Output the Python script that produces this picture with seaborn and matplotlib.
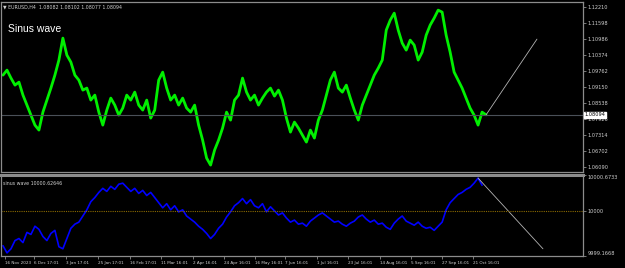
import numpy as np
import pandas as pd
import matplotlib
matplotlib.use("Agg")
import matplotlib.pyplot as plt
import matplotlib.transforms as mtransforms
import seaborn as sns

price = [1.09617, 1.09809, 1.09503, 1.09234, 1.09349, 1.08851, 1.08468, 1.08085, 1.07702, 1.07511,
         1.08200, 1.08660, 1.09120, 1.09617, 1.10192, 1.11035, 1.10383, 1.10115, 1.09617, 1.09426,
         1.09043, 1.09120, 1.08660, 1.08851, 1.08200, 1.07702, 1.08277, 1.08737, 1.08468, 1.08085,
         1.08354, 1.08851, 1.08660, 1.08966, 1.08468, 1.08277, 1.08660, 1.07971, 1.08277, 1.09426,
         1.09732, 1.09120, 1.08660, 1.08851, 1.08468, 1.08737, 1.08354, 1.08200, 1.08468, 1.07702,
         1.07128, 1.06439, 1.06170, 1.06745, 1.07128, 1.07588, 1.08200, 1.07894, 1.08660, 1.08851,
         1.09503, 1.08966, 1.08660, 1.08851, 1.08468, 1.08737, 1.08966, 1.09120, 1.08813, 1.09043,
         1.08660, 1.07971, 1.07434, 1.07817, 1.07588, 1.07319, 1.07051, 1.07511, 1.07205, 1.07894,
         1.08277, 1.08851, 1.09426, 1.09732, 1.09120, 1.08966, 1.09234, 1.08737, 1.08277, 1.07894,
         1.08468, 1.08851, 1.09234, 1.09617, 1.09886, 1.10192, 1.11341, 1.11724, 1.11992, 1.11341,
         1.10843, 1.10575, 1.10958, 1.10766, 1.10192, 1.10498, 1.11149, 1.11532, 1.11801, 1.12107,
         1.12030, 1.11149, 1.10498, 1.09732, 1.09426, 1.09120, 1.08737, 1.08354, 1.08085, 1.07702,
         1.08200, 1.08094]

# sinus wave indicator values
wave = [9999.357, 9999.224, 9999.300, 9999.453, 9999.491, 9999.415, 9999.605, 9999.567, 9999.720, 9999.662,
        9999.529, 9999.453, 9999.586, 9999.643, 9999.338, 9999.300, 9999.491, 9999.682, 9999.758, 9999.796,
        9999.910, 10000.025, 10000.177, 10000.254, 10000.349, 10000.425, 10000.368, 10000.463, 10000.406, 10000.502,
        10000.521, 10000.444, 10000.368, 10000.425, 10000.330, 10000.387, 10000.292, 10000.349, 10000.254, 10000.158,
        10000.063, 10000.139, 10000.025, 10000.101, 9999.987, 10000.025, 9999.910, 9999.853, 9999.796, 9999.720,
        9999.662, 9999.586, 9999.491, 9999.567, 9999.682, 9999.758, 9999.891, 9999.987, 10000.101, 10000.158,
        10000.235, 10000.139, 10000.215, 10000.101, 10000.063, 10000.139, 9999.987, 10000.082, 10000.006, 9999.929,
        9999.968, 9999.872, 9999.796, 9999.834, 9999.758, 9999.777, 9999.720, 9999.815, 9999.872, 9999.929,
        9999.968, 9999.910, 9999.853, 9999.796, 9999.815, 9999.758, 9999.720, 9999.777, 9999.815, 9999.891,
        9999.929, 9999.853, 9999.796, 9999.834, 9999.758, 9999.777, 9999.701, 9999.662, 9999.777, 9999.853,
        9999.910, 9999.815, 9999.777, 9999.739, 9999.796, 9999.720, 9999.682, 9999.701, 9999.643, 9999.720,
        9999.796, 10000.025, 10000.158, 10000.235, 10000.311, 10000.349, 10000.406, 10000.444, 10000.521, 10000.616,
        10000.482]

# projected sine continuation (start and end of the thin grey line)
price_proj_x = [121, 133.75]
price_proj = [1.08094, 1.10996]
wave_proj_x = [119, 135.25]
wave_proj = [10000.616, 9999.300]

date_ticks = [0.5, 7.75, 15.75, 23.75, 31.75, 39.5, 47.5, 55.25, 63, 70.75, 78.75, 86.5, 94.5, 102.25, 110, 117.75]
date_labels = ["16 Nov 2023", "6 Dec 17:01", "3 Jan 17:01", "25 Jan 17:01", "16 Feb 17:01",
               "11 Mar 16:01", "2 Apr 16:01", "24 Apr 16:01", "16 May 16:01", "7 Jun 16:01",
               "1 Jul 16:01", "23 Jul 16:01", "14 Aug 16:01", "5 Sep 16:01", "27 Sep 16:01",
               "21 Oct 16:01"]
price_ticks = [1.12210, 1.11598, 1.10986, 1.10374, 1.09762, 1.09150, 1.08538, 1.07926, 1.07314, 1.06702, 1.06090]
wave_ticks = [9999.1668, 10000.0, 10000.6733]
wave_labels = ["9999.1668", "10000", "10000.6733"]

sns.set_theme(style="dark")
plt.rcParams["font.family"] = ["DejaVu Sans"]

bg = "black"
frame = "#8c8c8c"
txt = "#d0d0d0"

fig = plt.figure(figsize=(6.25, 2.68), dpi=100, facecolor=bg)
ax1 = fig.add_axes([0.0016, 0.358, 0.931, 0.634])
ax2 = fig.add_axes([0.0016, 0.045, 0.931, 0.302])

df_p = pd.DataFrame({"bar": np.arange(len(price)), "price": price})
df_w = pd.DataFrame({"bar": np.arange(len(wave)), "wave": wave})

sns.lineplot(data=df_p, x="bar", y="price", ax=ax1, color="#00f000", lw=2.0)
sns.lineplot(x=price_proj_x, y=price_proj, ax=ax1, color="#b4b4b4", lw=0.6)
ax1.axhline(price[-1], color="#4a5058", lw=0.8)

sns.lineplot(data=df_w, x="bar", y="wave", ax=ax2, color="#0000ff", lw=1.2)
sns.lineplot(x=wave_proj_x, y=wave_proj, ax=ax2, color="#b4b4b4", lw=0.6)
ax2.axhline(10000, color="#8a6a00", lw=0.8, ls=(0, (1, 1)))

for ax in (ax1, ax2):
    ax.set_facecolor(bg)
    ax.set_xlim(-0.5, 145.25)
    ax.set_xlabel("")
    ax.set_ylabel("")
    ax.grid(False)
    for s in ax.spines.values():
        s.set_color(frame)
        s.set_linewidth(0.9)
        s.set_visible(True)
    ax.yaxis.tick_right()
    ax.tick_params(axis="y", colors=frame, labelcolor=txt, labelsize=3.6, length=2, width=0.6, pad=1.5)

ax1.set_ylim(1.05903, 1.12413)
ax1.set_yticks(price_ticks)
ax1.set_yticklabels([f"{v:.5f}" for v in price_ticks])
ax1.set_xticks([])

ax2.set_ylim(9999.1668, 10000.6733)
ax2.set_yticks(wave_ticks)
ax2.set_yticklabels(wave_labels)
ax2.spines["top"].set_linewidth(2.2)
labs = ax2.get_yticklabels()
labs[0].set_va("bottom")
labs[-1].set_va("top")
ax2.set_xticks(date_ticks)
ax2.set_xticklabels(date_labels, ha="left")
ax2.tick_params(axis="x", colors=frame, labelcolor=txt, labelsize=3.0, length=2, width=0.6, pad=1.5, bottom=True)

# current price box on the price scale
tr = mtransforms.blended_transform_factory(ax1.transAxes, ax1.transData)
ax1.text(1.003, price[-1], "1.08094", transform=tr, fontsize=3.6, color="black", va="center", ha="left",
         bbox=dict(facecolor="white", edgecolor="white", pad=0.5))

ax1.text(0.004, 0.985, "\u25bc EURUSD,H4  1.08082 1.08102 1.08077 1.08094", transform=ax1.transAxes,
         fontsize=3.4, color=txt, va="top", ha="left")
ax1.text(0.012, 0.84, "Sinus wave", transform=ax1.transAxes, fontsize=7.5, color="white",
         va="center", ha="left", family=["Liberation Sans", "DejaVu Sans"])
ax2.text(0.004, 0.93, "sinus wave 10000.62646", transform=ax2.transAxes, fontsize=3.4,
         color=txt, va="top", ha="left")

fig.savefig("out.png", dpi=100, facecolor=bg)
